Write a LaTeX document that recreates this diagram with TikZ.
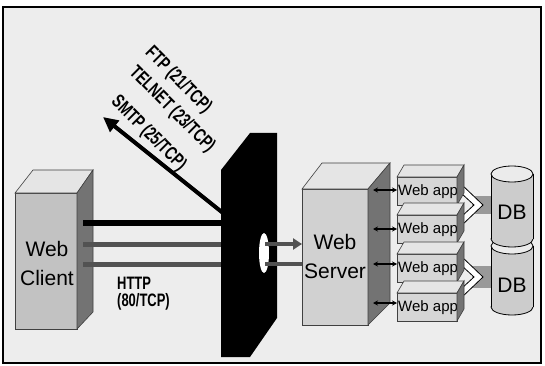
\documentclass[tikz,border=0pt]{standalone}
\usepackage{fontspec}
\setmainfont{Liberation Sans}
\newfontfamily\narrowfont{Liberation Sans}[FakeStretch=0.72]
\usetikzlibrary{arrows.meta}
\tikzset{
  frontface/.style={fill=black!24, draw=black!75, line width=0.6pt},
  srvfront/.style={fill=black!18, draw=black!75, line width=0.6pt},
  topface/.style={fill=black!10, draw=black!75, line width=0.6pt},
  sideface/.style={fill=black!55, draw=black!75, line width=0.6pt},
  appfront/.style={fill=black!16, draw=black!75, line width=0.6pt},
  bigtext/.style={font=\fontsize{21}{29}\selectfont, inner sep=0pt},
  apptext/.style={font=\fontsize{15}{15}\selectfont, anchor=west, inner sep=0pt},
  proto/.style={font=\narrowfont\bfseries\fontsize{19}{19}\selectfont, rotate=-45, anchor=west, inner sep=0pt},
  httplabel/.style={font=\narrowfont\bfseries\fontsize{18}{17}\selectfont, align=left, anchor=north west, inner sep=0pt},
  blackline/.style={line width=6pt, black},
  grayline/.style={line width=5pt, black!68},
  dblarrow/.style={{Stealth[length=5pt,width=5pt]}-{Stealth[length=5pt,width=5pt]}, line width=1.3pt},
  dbbody/.style={fill=black!20},
  dbtop/.style={fill=black!8, draw=black, line width=0.8pt},
  chevron/.style={fill=white, draw=black, line width=0.8pt},
  band/.style={fill=black!40}
}
\begin{document}
\begin{tikzpicture}[x=1pt,y=-1pt]
\useasboundingbox (0,0) rectangle (545,366);
\fill[white] (0,0) rectangle (545,366);
\filldraw[fill=black!7, draw=black, line width=1.2pt] (3,7) rectangle (541,363);

% ---------- Web client ----------
\filldraw[frontface] (15,193) rectangle (77,329);
\filldraw[topface] (15,193) -- (77,193) -- (93,170) -- (33,170) -- cycle;
\filldraw[sideface] (77,193) -- (93,170) -- (93,312) -- (77,329) -- cycle;
\node[bigtext, align=center] (client) at (47,263) {Web\\Client};

% ---------- connectors client -> firewall ----------
\coordinate (c1) at (83,223);
\coordinate (c2) at (83,244);
\coordinate (c3) at (83,264);
\coordinate (f1) at (224,223);
\coordinate (f2) at (224,244);
\coordinate (f3) at (224,264);
\draw[blackline] (c1) -- (f1);
\draw[grayline] (c2) -- (f2);
\draw[grayline] (c3) -- (f3);

% rejected traffic arrow
\coordinate (smtpstart) at (223,213);
\coordinate (smtptip) at (103,117);
\draw[line width=4pt, -{Triangle[length=15pt,width=14pt]}] (smtpstart) -- (smtptip);

% ---------- firewall ----------
\fill[black] (221,170) -- (250,133) -- (277,133) -- (277,318) -- (250,357) -- (221,357) -- cycle;
\fill[white] (264,253) ellipse [x radius=5pt, y radius=20pt];
\coordinate (hole1) at (265,244);
\coordinate (hole2) at (265,264);

% ---------- Web server ----------
\filldraw[srvfront] (302,189) rectangle (368,325);
\filldraw[topface] (302,189) -- (368,189) -- (390,163) -- (322,163) -- cycle;
\filldraw[sideface] (368,189) -- (390,163) -- (390,303) -- (368,325) -- cycle;
\node[bigtext, align=center] (server) at (335,256) {Web\\Server};

\coordinate (s1) at (302,244);
\coordinate (s2) at (302,264);
\draw[grayline, line width=4pt, -{Triangle[length=9pt,width=11pt]}] (hole1) -- (s1);
\draw[grayline, line width=4pt] (hole2) -- (s2);

% ---------- chevrons to DBs ----------
\fill[band] (472,196) rectangle (492,214);
\fill[band] (472,266) rectangle (492,288);
\filldraw[chevron] (461,184) -- (483,205) -- (461,226) -- (461,217) -- (474,205) -- (461,193) -- cycle;
\filldraw[chevron] (461,256) -- (483,277) -- (461,298) -- (461,289) -- (474,277) -- (461,265) -- cycle;

% ---------- Web app boxes ----------
\foreach \t/\n in {177/1,215/2,254/3,293/4}{
  \filldraw[appfront] (397,\t) rectangle (457,{\t+28});
  \filldraw[topface] (397,\t) -- (457,\t) -- (464,{\t-12}) -- (404,{\t-12}) -- cycle;
  \node[apptext] (app\n) at (398,{\t+15}) {Web app};
  \filldraw[sideface] (457,\t) -- (464,{\t-12}) -- (464,{\t+16}) -- (457,{\t+28}) -- cycle;
}
\coordinate (sa1) at (373,190);
\coordinate (sa2) at (373,229);
\coordinate (sa3) at (373,264);
\coordinate (sa4) at (373,303);
\coordinate (aa1) at (397,190);
\coordinate (aa2) at (397,229);
\coordinate (aa3) at (397,264);
\coordinate (aa4) at (397,303);
\foreach \n in {1,2,3,4}{ \draw[dblarrow] (sa\n) -- (aa\n); }

% ---------- databases ----------
\filldraw[dbbody, draw=black, line width=0.8pt] (512,307) ellipse [x radius=21pt, y radius=8pt];
\fill[dbbody] (491,246) rectangle (533,307);
\draw[line width=0.8pt] (491,246) -- (491,307) (533,246) -- (533,307);
\filldraw[dbtop] (512,246) ellipse [x radius=21pt, y radius=8pt];
\filldraw[dbbody, draw=black, line width=0.8pt] (512,239) ellipse [x radius=21pt, y radius=8pt];
\fill[dbbody] (491,174) rectangle (533,239);
\draw[line width=0.8pt] (491,174) -- (491,239) (533,174) -- (533,239);
\filldraw[dbtop] (512,174) ellipse [x radius=21pt, y radius=8pt];
\node[bigtext] (db1) at (512,212) {DB};
\node[bigtext] (db2) at (512,285) {DB};

% ---------- labels ----------
\node[proto] (ftp) at (148,50) {FTP (21/TCP)};
\node[proto] (telnet) at (132,70) {TELNET (23/TCP)};
\node[proto] (smtp) at (114,99) {SMTP (25/TCP)};
\node[httplabel] (http) at (117,277) {HTTP\\(80/TCP)};
\end{tikzpicture}
\end{document}
